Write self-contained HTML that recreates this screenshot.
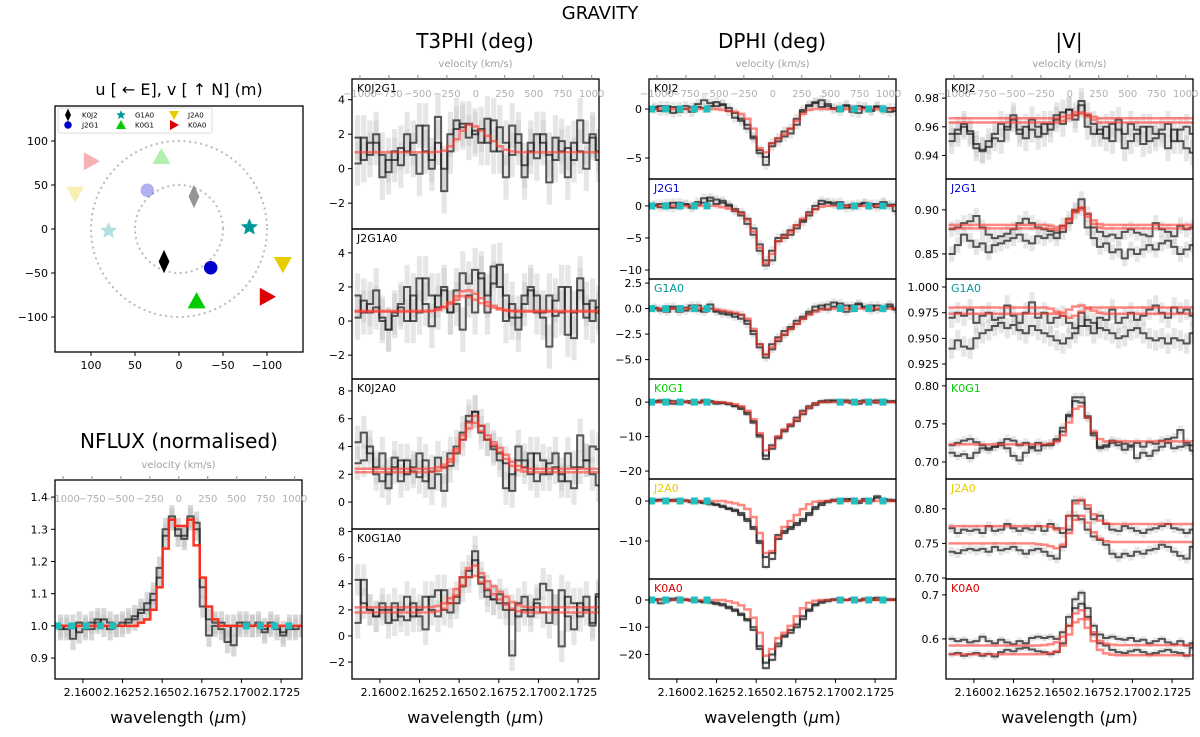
<!DOCTYPE html>
<html><head><meta charset="utf-8"><style>
html,body{margin:0;padding:0;background:#fff}
svg{display:block;font-family:"DejaVu Sans","Liberation Sans",sans-serif}
</style></head><body>
<svg id="fig" width="1200" height="737" viewBox="0 0 1200 737" xmlns="http://www.w3.org/2000/svg">
<text x="600" y="19" font-size="18" text-anchor="middle">GRAVITY</text>
<text x="475" y="48" font-size="20" text-anchor="middle">T3PHI (deg)</text>
<text x="772" y="48" font-size="20" text-anchor="middle">DPHI (deg)</text>
<text x="1069" y="48" font-size="20" text-anchor="middle">|V|</text>
<text x="179" y="95" font-size="16" text-anchor="middle">u [ ← E], v [ ↑ N] (m)</text>
<text x="179" y="448" font-size="20" text-anchor="middle">NFLUX (normalised)</text>
<g id="layer"></g>
</svg>
<script>
// ---- wavelength grid (data) ----
const WL_MIN = 2.15824, WL_MAX = 2.17382;
const BIN0 = 2.1584, DWL = 0.00039;
const VEL_ZERO = 2.16605, WL_PER_250 = 0.001827;
const velTicks = [-1000,-750,-500,-250,0,250,500,750,1000];
const wlTicks = [2.1600,2.1625,2.1650,2.1675,2.1700,2.1725];
const contWl = [2.1584,2.1593,2.1602,2.1611,2.1619,2.1703,2.1712,2.1721,2.1730];

// ---- NFLUX ----
const nfA = [1.00,0.99,0.96,1.01,1.00,0.99,1.01,1.02,1.01,1.00,1.00,1.01,1.02,1.04,1.05,1.08,1.15,1.28,1.34,1.30,1.28,1.33,1.30,1.12,1.02,1.01,0.99,0.95,1.00,1.01,1.00,1.00,1.01,0.99,1.00,1.00,0.98,1.00,0.99,1.00];
const nfB = [0.99,1.00,1.00,0.98,0.99,1.01,1.02,1.00,0.99,1.00,1.01,1.02,1.03,1.05,1.07,1.10,1.18,1.30,1.33,1.28,1.27,1.34,1.32,1.06,0.97,1.00,1.01,1.00,0.94,1.00,1.01,1.00,1.00,0.98,1.01,0.99,0.97,0.99,1.00,1.00];
const nfM = [1,1,1,1,1,1,1,1,1,1,1,1,1,1.01,1.02,1.05,1.12,1.24,1.33,1.31,1.31,1.33,1.25,1.15,1.06,1.02,1,1,1,1,1,1,1,1,1,1,1,1,1,1];

// ---- T3PHI ----
const t1a = [1.8,0.5,1.5,2.0,0.8,-0.2,0.5,1.2,1.0,1.5,2.5,1.0,0.5,3.0,-1.3,1.0,2.8,2.4,2.6,2.0,2.3,1.5,2.8,1.0,-0.5,2.5,1.5,0.2,1.0,2.0,1.5,-0.8,1.8,1.0,1.2,0.5,2.8,1.5,2.0,1.0];
const t1b = [0.3,1.8,0.8,1.5,-0.5,0.5,1.0,0.2,2.0,0.8,-0.3,2.5,0.0,1.5,0.0,2.0,2.3,2.6,1.8,2.2,1.5,2.9,1.0,2.4,1.5,0.8,2.0,-0.5,1.5,0.6,2.0,0.8,0.5,1.6,-0.5,1.5,1.0,0.0,1.8,0.5];
const t1m = [0.95,0.95,0.95,0.95,0.95,0.95,0.95,0.95,0.95,0.95,0.95,0.95,0.95,0.97,1.05,1.3,1.7,2.2,2.55,2.45,2.2,1.9,1.6,1.3,1.1,1.0,0.96,0.95,0.95,0.95,0.95,0.95,0.95,0.95,0.95,0.95,0.95,0.95,0.95,0.95];
const t2a = [1.5,0.5,1.0,1.8,0.2,-0.5,0.3,1.0,2.0,0.0,2.5,1.0,-0.3,1.5,2.0,0.5,1.8,2.8,2.2,3.0,2.5,0.5,3.2,2.0,0.0,1.0,0.2,1.5,2.0,0.5,0.2,-1.5,1.2,2.0,-0.8,0.5,2.5,1.0,0.0,0.8];
const t2b = [0.2,1.2,0.5,0.8,0.0,-0.5,0.5,0.8,0.0,1.5,0.5,2.5,1.5,0.8,1.8,0.5,1.0,-0.5,1.5,0.5,2.8,1.5,2.2,3.3,1.5,0.2,-0.5,1.0,1.8,1.5,0.5,1.5,0.3,0.5,2.0,-1.0,1.8,0.2,1.2,0.5];
const t2m1 = [0.6,0.6,0.6,0.6,0.6,0.6,0.6,0.6,0.6,0.6,0.6,0.6,0.62,0.7,0.85,1.1,1.45,1.75,1.8,1.6,1.35,1.1,0.9,0.75,0.66,0.62,0.6,0.6,0.6,0.6,0.6,0.6,0.6,0.6,0.6,0.6,0.6,0.6,0.6,0.6];
const t2m2 = [0.55,0.55,0.55,0.55,0.55,0.55,0.55,0.55,0.55,0.55,0.55,0.55,0.57,0.65,0.8,1.0,1.25,1.45,1.4,1.25,1.05,0.9,0.78,0.68,0.6,0.57,0.55,0.55,0.55,0.55,0.55,0.55,0.55,0.55,0.55,0.55,0.55,0.55,0.55,0.55];
const t3a = [4.3,5.0,3.5,2.5,3.5,1.0,2.5,3.0,2.0,2.5,3.5,1.5,2.2,3.2,2.5,3.5,4.0,5.0,6.2,6.5,5.5,4.5,4.0,3.0,1.0,2.0,4.0,3.0,2.0,3.5,3.0,2.0,2.5,1.5,3.5,2.5,4.8,3.0,2.0,1.2];
const t3b = [2.8,3.0,4.0,2.0,1.5,2.0,3.2,1.5,3.0,2.2,1.8,3.0,1.0,2.0,0.8,2.6,3.5,4.5,5.8,6.5,5.0,4.5,3.8,3.5,2.8,0.8,3.0,2.5,3.5,1.5,2.0,2.8,3.5,2.0,1.5,1.0,2.5,3.0,4.0,3.8];
const t3m1 = [2.4,2.4,2.4,2.4,2.4,2.4,2.4,2.4,2.4,2.4,2.4,2.4,2.42,2.5,2.7,3.1,3.8,4.8,5.7,6.2,5.5,4.8,4.3,3.9,3.4,2.9,2.6,2.45,2.4,2.4,2.4,2.4,2.4,2.4,2.4,2.4,2.4,2.4,2.4,2.4];
const t3m2 = [2.15,2.15,2.15,2.15,2.15,2.15,2.15,2.15,2.15,2.15,2.15,2.15,2.17,2.25,2.45,2.9,3.6,4.5,5.3,5.7,5.1,4.5,4.1,3.6,3.1,2.6,2.3,2.2,2.15,2.15,2.15,2.15,2.15,2.15,2.15,2.15,2.15,2.15,2.15,2.15];
const t4a = [4.3,2.5,2.0,1.5,2.5,2.0,1.2,2.0,3.0,1.5,2.0,3.0,2.0,1.5,3.5,2.5,3.0,4.5,5.0,6.5,4.5,3.5,2.8,2.5,2.0,-1.5,2.5,3.0,2.0,2.8,4.0,3.5,2.0,-0.8,3.0,2.5,1.5,3.0,1.0,3.0];
const t4b = [1.0,4.3,2.0,1.5,2.0,1.0,2.5,1.5,1.2,2.5,1.5,0.5,3.0,3.5,2.0,1.8,2.5,3.8,4.5,5.8,4.0,3.0,2.8,3.2,2.5,2.0,1.5,2.0,1.5,2.5,1.8,1.0,2.0,3.5,1.5,0.5,2.5,2.0,0.8,3.2];
const t4m1 = [2.2,2.2,2.2,2.2,2.2,2.2,2.2,2.2,2.2,2.2,2.2,2.2,2.22,2.3,2.5,2.9,3.6,4.5,5.2,5.4,4.8,4.2,3.8,3.4,3.0,2.6,2.35,2.25,2.2,2.2,2.2,2.2,2.2,2.2,2.2,2.2,2.2,2.2,2.2,2.2];
const t4m2 = [1.8,1.8,1.8,1.8,1.8,1.8,1.8,1.8,1.8,1.8,1.8,1.8,1.82,1.9,2.1,2.5,3.1,3.9,4.5,4.6,4.1,3.6,3.2,2.8,2.4,2.1,1.9,1.82,1.8,1.8,1.8,1.8,1.8,1.8,1.8,1.8,1.8,1.8,1.8,1.8];

// ---- DPHI ----
const d1a = [0,0.3,-0.2,0.2,-0.3,0.3,0.2,0.5,0.9,0.6,0.3,0.5,-0.2,-0.9,-1.2,-1.6,-3.0,-4.5,-5.7,-3.8,-3.3,-2.8,-2.5,-1.6,-0.3,0.4,0.6,0.9,0.3,0.1,0.2,0.4,-0.3,0.3,0.1,-0.2,0.2,-0.1,0.1,-0.2];
const d1b = [0.2,-0.2,0.3,-0.4,0.2,0.0,-0.3,0.2,0.1,0.3,0.7,0.4,0.1,-0.4,-1.0,-2.0,-2.8,-4.2,-4.9,-3.5,-3.0,-2.3,-2.0,-1.0,-0.1,0.3,0.7,0.2,0.5,0.0,-0.2,0.3,0.0,-0.4,0.2,-0.1,0.3,0.0,-0.3,0.1];
const d1m = [0,0,0,0,0,0,0,0,0,0,0,-0.1,-0.2,-0.3,-0.5,-1.0,-2.0,-4.0,-4.4,-3.5,-3.0,-2.6,-2.0,-1.2,-0.5,-0.1,0,0,0,0,0,0,0,0,0,0,0,0,0,0];
const d2a = [0,0.3,-0.2,0.5,0.0,0.2,-0.3,0.6,1.2,0.8,0.3,0.8,0.2,-0.5,-1.0,-2.0,-3.5,-7.0,-9.3,-8.5,-5.0,-4.5,-3.8,-3.5,-2.5,-1.0,0.0,0.8,0.6,0.5,0.0,-0.3,0.2,0.0,0.5,0.3,-0.2,0.6,0.2,-0.8];
const d2b = [0.2,-0.2,0.4,-0.3,0.5,0.3,0.0,0.2,0.5,1.3,1.0,0.5,0.0,-0.8,-1.5,-2.8,-4.5,-6.0,-8.5,-7.0,-5.5,-5.0,-4.5,-3.0,-2.2,-1.5,-0.5,0.3,0.5,0.2,0.6,0.1,-0.2,0.3,0.4,0.0,0.3,0.5,0.0,0.2];
const d2m = [0,0,0,0,0,0,0,0,0,0,0,-0.2,-0.4,-0.7,-1.2,-2.2,-4.0,-6.5,-9.0,-7.5,-5.5,-4.8,-4.0,-3.0,-2.0,-1.2,-0.5,-0.1,0,0,0,0,0,0,0,0,0,0,0,0];
const d3a = [0.0,-0.2,0.2,0.0,-0.3,0.1,0.3,-0.2,0.0,0.4,-0.3,-0.5,-0.4,-0.8,-0.6,-1.2,-2.5,-3.8,-4.8,-4.0,-3.2,-2.2,-2.0,-1.5,-0.8,-0.3,0.2,0.0,0.4,0.6,0.2,-0.3,0.3,0.5,0.1,-0.2,0.3,0.0,0.2,-0.1];
const d3b = [0.1,0.0,-0.3,0.2,0.0,-0.2,0.0,0.3,-0.3,0.0,-0.2,-0.3,-0.6,-0.5,-1.0,-1.5,-2.2,-3.5,-4.5,-3.5,-2.8,-2.6,-1.8,-1.2,-1.0,-0.5,-0.2,0.3,-0.1,0.2,0.5,0.3,0.0,0.4,0.2,0.3,-0.1,0.2,0.4,0.0];
const d3m = [0,0,0,0,0,0,0,0,0,0,-0.1,-0.2,-0.3,-0.4,-0.6,-1.0,-2.0,-3.5,-4.5,-3.8,-3.0,-2.5,-2.0,-1.5,-1.0,-0.6,-0.3,-0.1,0,0,0,0,0,0,0,0,0,0,0,0];
const d4a = [0.3,0.0,0.5,-0.5,0.0,0.2,-0.3,0.0,0.5,0.0,-0.5,-0.3,-0.6,-1.2,-2.0,-3.5,-6.0,-10.0,-16.5,-13.5,-10.5,-8.5,-7.0,-5.5,-3.5,-1.8,-0.8,0.0,0.5,0.2,0.0,0.5,0.3,-0.5,0.0,0.3,0.5,0.0,0.3,0.0];
const d4b = [0.0,0.5,0.0,0.3,-0.3,0.0,0.3,-0.2,0.0,0.3,0.0,-0.2,-0.5,-1.0,-1.5,-3.0,-5.5,-9.5,-15.5,-12.5,-10.0,-8.0,-6.5,-4.5,-2.5,-1.2,-0.3,0.3,0.0,0.5,0.3,0.0,-0.3,0.3,0.5,0.0,-0.2,0.5,0.0,0.3];
const d4m = [0,0,0,0,0,0,0,0,0,0,0,0,-0.3,-0.6,-1.2,-2.5,-5.0,-9.0,-14.0,-13.0,-10.0,-8.0,-6.5,-5.0,-3.0,-1.5,-0.5,0,0,0,0,0,0,0,0,0,0,0,0,0];
const d5a = [0.3,0.2,0.0,0.3,0.0,0.2,-0.3,0.0,-0.5,-0.8,-1.0,-1.5,-2.0,-2.5,-3.5,-5.0,-7.0,-10.5,-16.5,-14.5,-9.5,-8.0,-6.5,-6.0,-5.0,-3.5,-2.0,-1.0,-0.3,0.0,0.3,0.0,0.5,-0.5,0.0,0.3,0.8,0.3,0.0,0.2];
const d5b = [0.0,0.3,0.2,0.0,0.3,0.0,0.0,-0.3,-0.3,-0.5,-0.8,-1.2,-1.8,-2.2,-3.0,-4.5,-6.5,-10.0,-14.0,-13.0,-8.5,-7.5,-7.0,-5.5,-4.5,-3.0,-1.5,-0.5,0.0,0.3,0.0,0.5,0.3,0.0,0.5,0.0,1.2,0.5,0.3,0.0];
const d5m = [0,0,0,0,0,0,0,0,0,0,0,0,-0.3,-0.6,-1.0,-2.0,-4.0,-8.0,-13.0,-12.5,-9.0,-6.5,-5.0,-3.5,-2.0,-0.8,-0.2,0,0,0,0,0,0,0,0,0,0,0,0,0];
const d6a = [0.0,0.3,-0.3,0.5,0.8,0.3,0.0,-0.3,-0.5,-0.8,-1.0,-1.5,-2.5,-3.5,-5.0,-7.0,-10.0,-17.0,-25.0,-22.0,-17.0,-13.5,-12.0,-10.0,-7.0,-4.0,-2.0,-1.0,-0.5,0.0,0.3,0.0,0.5,-0.3,0.0,0.5,0.0,0.3,0.0,0.2];
const d6b = [0.3,-1.2,0.3,0.0,0.5,0.0,-0.3,-0.5,-0.8,-1.0,-1.5,-2.0,-3.0,-4.0,-5.5,-7.5,-11.0,-18.0,-23.0,-20.0,-16.0,-13.0,-11.0,-9.0,-6.0,-3.5,-1.5,-0.5,0.0,0.3,0.5,0.0,0.3,0.0,0.5,0.0,0.8,0.0,0.3,0.0];
const d6m = [0,0,0,0,0,0,0,0,0,0,0,0,-0.5,-1.0,-2.0,-3.5,-6.5,-12.0,-20.5,-18.0,-14.0,-12.0,-9.5,-6.0,-3.0,-1.0,-0.3,0,0,0,0,0,0,0,0,0,0,0,0,0];

// ---- |V| ----
const v1a = [0.955,0.958,0.960,0.957,0.945,0.943,0.950,0.955,0.962,0.958,0.965,0.958,0.952,0.965,0.960,0.955,0.962,0.965,0.970,0.972,0.965,0.978,0.968,0.962,0.955,0.960,0.950,0.965,0.955,0.962,0.958,0.948,0.960,0.955,0.958,0.962,0.950,0.958,0.960,0.955];
const v1b = [0.950,0.955,0.962,0.955,0.948,0.944,0.946,0.952,0.950,0.960,0.968,0.955,0.960,0.958,0.953,0.962,0.958,0.968,0.962,0.972,0.968,0.975,0.960,0.955,0.958,0.952,0.962,0.958,0.945,0.950,0.955,0.960,0.950,0.952,0.955,0.945,0.958,0.950,0.945,0.942];
const v1m1 = [0.966,0.966,0.966,0.966,0.966,0.966,0.966,0.966,0.966,0.966,0.966,0.966,0.966,0.966,0.966,0.966,0.966,0.966,0.967,0.968,0.970,0.970,0.969,0.967,0.966,0.966,0.966,0.966,0.966,0.966,0.966,0.966,0.966,0.966,0.966,0.966,0.966,0.966,0.966,0.966];
const v1m2 = [0.963,0.963,0.963,0.963,0.963,0.963,0.963,0.963,0.963,0.963,0.963,0.963,0.963,0.963,0.963,0.963,0.963,0.963,0.964,0.966,0.968,0.969,0.967,0.965,0.963,0.963,0.963,0.963,0.963,0.963,0.963,0.963,0.963,0.963,0.963,0.963,0.963,0.963,0.963,0.963];
const v2a = [0.878,0.880,0.885,0.887,0.893,0.880,0.872,0.868,0.870,0.873,0.878,0.885,0.890,0.885,0.880,0.878,0.876,0.874,0.882,0.890,0.900,0.912,0.895,0.880,0.875,0.870,0.872,0.868,0.875,0.878,0.874,0.872,0.870,0.885,0.878,0.875,0.870,0.882,0.878,0.880];
const v2b = [0.850,0.860,0.872,0.865,0.858,0.862,0.852,0.860,0.862,0.865,0.868,0.872,0.865,0.862,0.870,0.868,0.872,0.868,0.875,0.885,0.898,0.902,0.880,0.868,0.858,0.862,0.852,0.855,0.845,0.855,0.850,0.855,0.860,0.855,0.862,0.865,0.858,0.850,0.855,0.860];
const v2m1 = [0.883,0.883,0.883,0.883,0.883,0.883,0.883,0.883,0.883,0.883,0.883,0.883,0.883,0.883,0.883,0.883,0.882,0.880,0.882,0.890,0.900,0.903,0.896,0.888,0.884,0.883,0.883,0.883,0.883,0.883,0.883,0.883,0.883,0.883,0.883,0.883,0.883,0.883,0.883,0.883];
const v2m2 = [0.879,0.879,0.879,0.879,0.879,0.879,0.879,0.879,0.879,0.879,0.879,0.879,0.879,0.879,0.879,0.879,0.878,0.877,0.879,0.887,0.897,0.900,0.892,0.884,0.880,0.879,0.879,0.879,0.879,0.879,0.879,0.879,0.879,0.879,0.879,0.879,0.879,0.879,0.879,0.879];
const v3a = [0.970,0.975,0.972,0.978,0.965,0.972,0.975,0.968,0.970,0.982,0.972,0.965,0.975,0.985,0.970,0.975,0.965,0.970,0.972,0.965,0.960,0.975,0.962,0.955,0.970,0.968,0.978,0.965,0.970,0.975,0.968,0.972,0.978,0.982,0.975,0.970,0.980,0.975,0.978,0.972];
const v3b = [0.940,0.948,0.942,0.940,0.950,0.955,0.958,0.962,0.965,0.960,0.963,0.958,0.955,0.962,0.958,0.955,0.952,0.948,0.945,0.950,0.955,0.962,0.968,0.965,0.960,0.958,0.955,0.950,0.952,0.958,0.960,0.955,0.950,0.948,0.950,0.945,0.950,0.948,0.945,0.955];
const v3m1 = [0.980,0.980,0.980,0.980,0.980,0.980,0.980,0.980,0.980,0.980,0.980,0.980,0.980,0.980,0.980,0.980,0.979,0.976,0.972,0.970,0.972,0.976,0.979,0.980,0.980,0.980,0.980,0.980,0.980,0.980,0.980,0.980,0.980,0.980,0.980,0.980,0.980,0.980,0.980,0.980];
const v3m2 = [0.974,0.974,0.974,0.974,0.974,0.974,0.974,0.974,0.974,0.974,0.974,0.974,0.974,0.974,0.974,0.974,0.974,0.974,0.975,0.978,0.981,0.982,0.980,0.977,0.975,0.974,0.974,0.974,0.974,0.974,0.974,0.974,0.974,0.974,0.974,0.974,0.974,0.974,0.974,0.974];
const v4a = [0.722,0.725,0.728,0.730,0.726,0.722,0.718,0.720,0.725,0.730,0.728,0.722,0.725,0.720,0.725,0.722,0.724,0.730,0.740,0.760,0.785,0.785,0.760,0.735,0.720,0.722,0.728,0.726,0.724,0.722,0.725,0.720,0.726,0.724,0.728,0.730,0.732,0.742,0.725,0.722];
const v4b = [0.712,0.708,0.710,0.705,0.712,0.718,0.716,0.720,0.722,0.718,0.708,0.702,0.712,0.718,0.715,0.722,0.722,0.728,0.745,0.762,0.780,0.778,0.758,0.738,0.718,0.720,0.725,0.722,0.716,0.720,0.705,0.712,0.708,0.715,0.720,0.725,0.718,0.720,0.722,0.715];
const v4m = [0.723,0.723,0.723,0.723,0.723,0.723,0.723,0.723,0.723,0.723,0.723,0.723,0.723,0.723,0.723,0.723,0.724,0.727,0.735,0.752,0.770,0.773,0.758,0.740,0.730,0.727,0.727,0.727,0.727,0.727,0.727,0.727,0.727,0.727,0.727,0.727,0.727,0.727,0.727,0.727];
const v5a = [0.772,0.765,0.770,0.768,0.770,0.765,0.775,0.768,0.770,0.778,0.772,0.768,0.772,0.770,0.775,0.768,0.778,0.772,0.765,0.790,0.812,0.812,0.800,0.785,0.790,0.778,0.770,0.768,0.775,0.772,0.768,0.765,0.770,0.772,0.775,0.778,0.772,0.770,0.765,0.770];
const v5b = [0.738,0.736,0.740,0.742,0.740,0.742,0.738,0.745,0.740,0.742,0.745,0.740,0.735,0.740,0.742,0.738,0.732,0.728,0.745,0.770,0.790,0.785,0.770,0.760,0.755,0.748,0.735,0.730,0.735,0.732,0.738,0.735,0.740,0.742,0.748,0.745,0.738,0.732,0.728,0.745];
const v5m1 = [0.775,0.775,0.775,0.775,0.775,0.775,0.775,0.775,0.775,0.775,0.775,0.775,0.775,0.775,0.775,0.775,0.774,0.770,0.772,0.790,0.808,0.813,0.805,0.792,0.783,0.779,0.778,0.778,0.778,0.778,0.778,0.778,0.778,0.778,0.778,0.778,0.778,0.778,0.778,0.778];
const v5m2 = [0.750,0.750,0.750,0.750,0.750,0.750,0.750,0.750,0.750,0.750,0.750,0.750,0.750,0.750,0.749,0.748,0.746,0.743,0.748,0.765,0.784,0.790,0.780,0.766,0.757,0.753,0.752,0.752,0.752,0.752,0.752,0.752,0.752,0.752,0.752,0.752,0.752,0.752,0.752,0.752];
const v6a = [0.600,0.595,0.598,0.592,0.595,0.605,0.595,0.590,0.598,0.592,0.588,0.595,0.590,0.602,0.605,0.602,0.605,0.600,0.615,0.650,0.690,0.705,0.670,0.630,0.610,0.602,0.605,0.600,0.598,0.602,0.595,0.598,0.590,0.595,0.600,0.592,0.588,0.595,0.585,0.590];
const v6b = [0.565,0.568,0.562,0.565,0.568,0.562,0.566,0.560,0.570,0.575,0.572,0.578,0.580,0.576,0.572,0.570,0.565,0.570,0.590,0.630,0.670,0.680,0.650,0.610,0.590,0.585,0.575,0.570,0.568,0.572,0.575,0.570,0.565,0.568,0.572,0.575,0.570,0.568,0.562,0.580];
const v6m1 = [0.585,0.585,0.585,0.585,0.585,0.585,0.585,0.585,0.585,0.585,0.585,0.585,0.585,0.585,0.585,0.586,0.588,0.592,0.605,0.630,0.658,0.665,0.645,0.615,0.596,0.589,0.587,0.586,0.586,0.586,0.586,0.586,0.586,0.586,0.586,0.586,0.586,0.586,0.586,0.586];
const v6m2 = [0.565,0.565,0.565,0.565,0.565,0.565,0.565,0.565,0.565,0.565,0.565,0.565,0.565,0.565,0.565,0.566,0.568,0.572,0.585,0.610,0.638,0.645,0.625,0.595,0.575,0.567,0.564,0.563,0.563,0.563,0.563,0.563,0.563,0.563,0.563,0.563,0.563,0.563,0.563,0.563];

// ---- UV coverage ----
const uvNames = ["K0J2","J2G1","G1A0","K0G1","J2A0","K0A0"];
const uvU = [17,-36,-80,-20,-118,-100];
const uvV = [-37,-44,2,-82,-40,-77];
const uvColors = ["#000000","#0000cc","#009999","#00cc00","#e6cc00","#dd0000"];
const uvMarkers = ["diamond","circle","star","up","down","right"];
const uvTicks = [100,50,0,-50,-100];

const NS = "http://www.w3.org/2000/svg";
const root = document.getElementById("layer");
function mk(tag, attrs, parent){
  const e = document.createElementNS(NS, tag);
  for (const k in attrs) e.setAttribute(k, attrs[k]);
  (parent||root).appendChild(e);
  return e;
}
function fmt(v, d){ const s = v.toFixed(d); return s.replace("-", "\u2212"); }

let clipId = 0;
const COLS = {
  nflux:{x:55,w:247}, t3:{x:352,w:247}, dphi:{x:649,w:247}, vis:{x:946,w:247}
};
function xw(col, wl){ return col.x + (wl - WL_MIN)/(WL_MAX - WL_MIN)*col.w; }

function panel(name, col, top, h, ymin, ymax, ticks, dec, label, labelColor, black, models, err, opts){
  opts = opts || {};
  const g = mk("g", {});
  
  
  const ys = v => top + (ymax - v)/(ymax - ymin)*h;
  const id = "c"+(clipId++);
  const cp = mk("clipPath", {id:id}, g);
  mk("rect", {x:col.x, y:top, width:col.w, height:h}, cp);
  const inner = mk("g", {"clip-path":"url(#"+id+")"}, g);
  black.forEach(arr => {
    arr.forEach((v,i) => {
      const x0 = xw(col, BIN0 + i*DWL), x1 = xw(col, BIN0 + (i+1)*DWL);
      const r = mk("rect", {x:x0+0.5, y:ys(v+err), width:Math.max(1,x1-x0-1), height:ys(v-err)-ys(v+err), fill:"#c8c8c8", "fill-opacity":opts.errOp||"0.45"}, inner);
      
      
    });
  });
  const step = (arr) => {
    let d = "";
    arr.forEach((v,i) => {
      const x0 = xw(col, BIN0 + i*DWL), x1 = xw(col, BIN0 + (i+1)*DWL);
      d += (i===0 ? "M"+x0.toFixed(1)+","+ys(v).toFixed(1) : "V"+ys(v).toFixed(1)) + "H"+x1.toFixed(1);
    });
    return d;
  };
  black.forEach(arr => {
    const p = mk("path", {d:step(arr), fill:"none", stroke:"#222", "stroke-opacity":"0.75", "stroke-width":"2"}, inner);
    
    
  });
  models.forEach(arr => {
    const p = mk("path", {d:step(arr), fill:"none", stroke:opts.solidModel?"#ff2a1a":"#ff3b2f", "stroke-opacity":opts.solidModel?"0.95":"0.6", "stroke-width":"2.5"}, inner);
    
    
  });
  if (opts.cont !== undefined) {
    contWl.forEach(w => {
      const x = xw(col, w);
      const s = mk("rect", {x:x-3.5, y:ys(opts.cont)-3.5, width:7, height:7, fill:"#20c0c0"}, inner);
      
      
    });
  }
  mk("rect", {x:col.x, y:top, width:col.w, height:h, fill:"none", stroke:"#000", "stroke-width":"1.3"}, g);
  ticks.forEach(t => {
    const y = ys(t);
    mk("line", {x1:col.x-4, x2:col.x, y1:y, y2:y, stroke:"#000", "stroke-width":"1"}, g);
    const tx = mk("text", {x:col.x-7, y:y+4, "font-size":"11", "text-anchor":"end"}, g);
    tx.textContent = fmt(t, dec);
    
    
  });
  if (label) {
    const lt = mk("text", {x:col.x+5, y:top+13, "font-size":"11", fill:labelColor}, g);
    lt.textContent = label;
    
    
  }
  if (opts.velTop) {
    velTicks.forEach(v => {
      const x = xw(col, VEL_ZERO + v/250*WL_PER_250);
      mk("line", {x1:x, x2:x, y1:top-4, y2:top, stroke:"#888", "stroke-width":"1"}, g);
      const tx = mk("text", {x:x, y:top+opts.velTop, "font-size":"10", fill:"#b0b0b0", "text-anchor":"middle"}, g);
      tx.textContent = String(v).replace("-", "\u2212");
      
      
    });
    const vt = mk("text", {x:col.x+col.w/2, y:top-12, "font-size":"10", fill:"#a0a0a0", "text-anchor":"middle"}, g);
    vt.textContent = "velocity (km/s)";
    
    
  }
  if (opts.wlBottom) {
    const b = top + h;
    wlTicks.forEach(w => {
      const x = xw(col, w);
      mk("line", {x1:x, x2:x, y1:b, y2:b+4, stroke:"#000", "stroke-width":"1"}, g);
      const tx = mk("text", {x:x, y:b+17, "font-size":"11", "text-anchor":"middle"}, g);
      tx.textContent = w.toFixed(4);
      
      
    });
    const xt = mk("text", {x:col.x+col.w/2, y:b+44, "font-size":"16", "text-anchor":"middle"}, g);
    xt.innerHTML = 'wavelength (<tspan font-style="italic">μ</tspan>m)';
    
    
  }
}

panel("nflux-panel", COLS.nflux, 480, 199, 0.835, 1.453, [0.9,1.0,1.1,1.2,1.3,1.4], 1, "", "#000", [nfA,nfB], [nfM], 0.035, {velTop:22, wlBottom:true, cont:1.0, solidModel:true, errOp:"0.7"});

panel("t3phi-k0j2g1", COLS.t3, 79, 150, -3.5, 5.2, [-2,0,2,4], 0, "K0J2G1", "#000", [t1a,t1b], [t1m], 1.3, {velTop:18});
panel("t3phi-j2g1a0", COLS.t3, 229, 150, -3.4, 5.4, [-2,0,2,4], 0, "J2G1A0", "#000", [t2a,t2b], [t2m1,t2m2], 1.3);
panel("t3phi-k0j2a0", COLS.t3, 379, 150, -1.94, 8.86, [0,2,4,6,8], 0, "K0J2A0", "#000", [t3a,t3b], [t3m1,t3m2], 1.2);
panel("t3phi-k0g1a0", COLS.t3, 529, 150, -3.3, 8.2, [-2,0,2,4,6,8], 0, "K0G1A0", "#000", [t4a,t4b], [t4m1,t4m2], 1.2, {wlBottom:true});

panel("dphi-k0j2", COLS.dphi, 79, 100, -7.14, 3.06, [-5,0], 0, "K0J2", "#000", [d1a,d1b], [d1m], 0.5, {velTop:18, cont:0});
panel("dphi-j2g1", COLS.dphi, 179, 100, -11.4, 4.2, [-10,-5,0], 0, "J2G1", "#0000cc", [d2a,d2b], [d2m], 0.7, {cont:0});
panel("dphi-g1a0", COLS.dphi, 279, 100, -6.9, 2.9, [-5,-2.5,0,2.5], 1, "G1A0", "#009999", [d3a,d3b], [d3m], 0.4, {cont:0});
panel("dphi-k0g1", COLS.dphi, 379, 100, -22.3, 6.7, [-20,-10,0], 0, "K0G1", "#00cc00", [d4a,d4b], [d4m], 0.7, {cont:0});
panel("dphi-j2a0", COLS.dphi, 479, 100, -19.5, 5.5, [-10,0], 0, "J2A0", "#e6cc00", [d5a,d5b], [d5m], 0.6, {cont:0});
panel("dphi-k0a0", COLS.dphi, 579, 100, -29, 7.7, [-20,-10,0], 0, "K0A0", "#dd0000", [d6a,d6b], [d6m], 0.8, {cont:0, wlBottom:true});

panel("vis-k0j2", COLS.vis, 79, 100, 0.9236, 0.9933, [0.94,0.96,0.98], 2, "K0J2", "#000", [v1a,v1b], [v1m1,v1m2], 0.009, {velTop:18});
panel("vis-j2g1", COLS.vis, 179, 100, 0.8216, 0.935, [0.85,0.90], 2, "J2G1", "#0000cc", [v2a,v2b], [v2m1,v2m2], 0.009);
panel("vis-g1a0", COLS.vis, 279, 100, 0.9104, 1.0078, [0.925,0.95,0.975,1.0], 3, "G1A0", "#009999", [v3a,v3b], [v3m1,v3m2], 0.01);
panel("vis-k0g1", COLS.vis, 379, 100, 0.6776, 0.809, [0.70,0.75,0.80], 2, "K0G1", "#00cc00", [v4a,v4b], [v4m], 0.006);
panel("vis-j2a0", COLS.vis, 479, 100, 0.6986, 0.843, [0.70,0.75,0.80], 2, "J2A0", "#e6cc00", [v5a,v5b], [v5m1,v5m2], 0.007);
panel("vis-k0a0", COLS.vis, 579, 100, 0.509, 0.736, [0.6,0.7], 1, "K0A0", "#dd0000", [v6a,v6b], [v6m1,v6m2], 0.008, {wlBottom:true});

(function(){
  const X0=55, Y0=106, W=248, H=246, CX=179, CY=229, S=0.88;
  const ux = u => CX - u*S, vy = v => CY - v*S;
  const g = mk("g", {});
  
  
  [50,100].forEach(r => {
    const c = mk("circle", {cx:CX, cy:CY, r:r*S, fill:"none", stroke:"#bbb", "stroke-width":"2.2", "stroke-dasharray":"0.1 5.5", "stroke-linecap":"round"}, g);
    
    
  });
  function marker(type, x, y, color, op, size, parent){
    const s = size;
    let e;
    if (type==="circle") e = mk("circle", {cx:x, cy:y, r:s*0.75}, parent);
    else if (type==="diamond") e = mk("polygon", {points:`${x},${y-s*1.3} ${x+s*0.6},${y} ${x},${y+s*1.3} ${x-s*0.6},${y}`}, parent);
    else if (type==="up") e = mk("polygon", {points:`${x},${y-s} ${x+s},${y+s*0.8} ${x-s},${y+s*0.8}`}, parent);
    else if (type==="down") e = mk("polygon", {points:`${x},${y+s} ${x+s},${y-s*0.8} ${x-s},${y-s*0.8}`}, parent);
    else if (type==="right") e = mk("polygon", {points:`${x+s},${y} ${x-s*0.8},${y-s} ${x-s*0.8},${y+s}`}, parent);
    else {
      let pts=[];
      for(let k=0;k<10;k++){const a=-Math.PI/2+k*Math.PI/5, r=k%2?s*0.45:s; pts.push((x+r*Math.cos(a)).toFixed(1)+","+(y+r*Math.sin(a)).toFixed(1));}
      e = mk("polygon", {points:pts.join(" ")}, parent);
    }
    e.setAttribute("fill", color);
    e.setAttribute("fill-opacity", op);
    return e;
  }
  uvU.forEach((u,i) => {
    const m1 = marker(uvMarkers[i], ux(-u), vy(-uvV[i]), i===0?"#888":uvColors[i], i===0?0.9:0.3, 9, g);
    
    
    const m2 = marker(uvMarkers[i], ux(u), vy(uvV[i]), uvColors[i], 1, 9, g);
    
    
  });
  mk("rect", {x:X0, y:Y0, width:W, height:H, fill:"none", stroke:"#000", "stroke-width":"1.3"}, g);
  uvTicks.forEach(t => {
    const x = ux(t), y = vy(t);
    mk("line", {x1:x, x2:x, y1:Y0+H, y2:Y0+H+4, stroke:"#000"}, g);
    const tx = mk("text", {x:x, y:Y0+H+17, "font-size":"11", "text-anchor":"middle"}, g);
    tx.textContent = String(t).replace("-", "\u2212");
    
    
    mk("line", {x1:X0-4, x2:X0, y1:y, y2:y, stroke:"#000"}, g);
    const ty = mk("text", {x:X0-7, y:y+4, "font-size":"11", "text-anchor":"end"}, g);
    ty.textContent = String(t).replace("-", "\u2212");
    
    
  });
  const lg = mk("g", {}, g);
  
  
  mk("rect", {x:58, y:108, width:154, height:25, fill:"#fff", "fill-opacity":"0.8", stroke:"#ddd", rx:2}, lg);
  [0,1,2,3,4,5].forEach((i,k) => {
    const colI = Math.floor(k/2), row = k%2;
    const mx = 68 + colI*53, my = 115 + row*10;
    const lm = marker(uvMarkers[i], mx, my, uvColors[i], 1, 5, lg);
    
    
    const lt = mk("text", {x:mx+14, y:my+2.5, "font-size":"7"}, lg);
    lt.textContent = uvNames[i];
    
    
  });
})();
</script>
</body></html>
